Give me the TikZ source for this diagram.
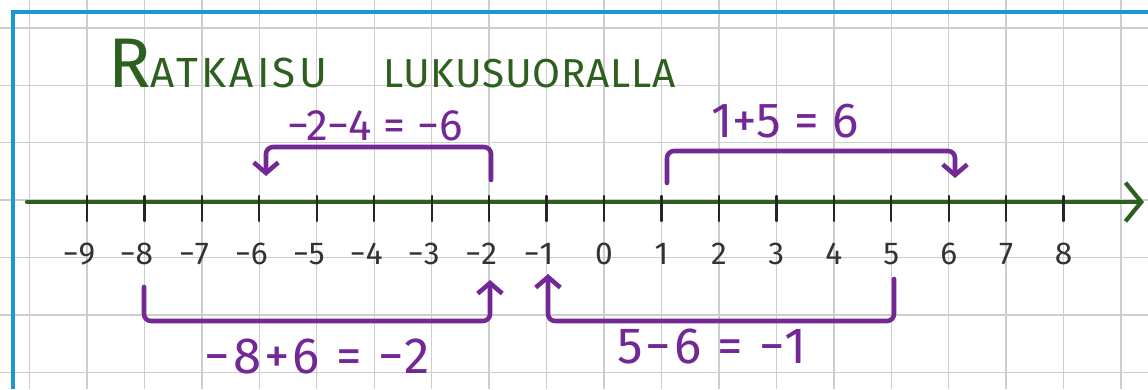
\documentclass[tikz,border=0pt]{standalone}
\usepackage{fontspec}
\setmainfont{Fira Sans}
\usetikzlibrary{arrows.meta}
\definecolor{gridgray}{RGB}{205,205,205}
\definecolor{boardblue}{RGB}{30,150,212}
\definecolor{linegreen}{RGB}{45,95,30}
\definecolor{penpurple}{RGB}{115,40,150}
\begin{document}
\begin{tikzpicture}[x=0.02cm,y=-0.02cm,
  gridline/.style={draw=gridgray,line width=0.8pt},
  border/.style={draw=boardblue,line width=2.2pt},
  axis/.style={draw=linegreen,line width=2.4pt,line cap=round,
    -{Straight Barb[length=9pt,width=22pt,line width=2.4pt]}},
  tickmark/.style={draw=black!85,line width=1.3pt,line cap=round},
  ticklabel/.style={font=\fontsize{18}{20}\selectfont,text=black!80,inner sep=0pt},
  jump/.style={draw=penpurple,line width=2.6pt,rounded corners=4pt,line cap=round,line join=round},
  jumparrow/.style={jump,-{Straight Barb[length=6pt,width=14pt]}},
  sumlabel/.style={text=penpurple,inner sep=0pt},
  titletext/.style={text=linegreen,inner sep=0pt,anchor=base west}
]
\useasboundingbox (0,0) rectangle (1148,389);
\fill[white] (0,0) rectangle (1148,389);
% grid
\foreach \i in {0,...,19} \draw[gridline] ({29.5+57.45*\i},0) -- ({29.5+57.45*\i},389);
\foreach \j in {0,...,6} \draw[gridline] (0,{27.8+57.4*\j}) -- (1148,{27.8+57.4*\j});
% border
\draw[border] (13,389) -- (13,12) -- (1148,12);
% title
\node[titletext] (title1) at (108,87) {\addfontfeatures{LetterSpace=8}\fontsize{40}{40}\selectfont R\fontsize{24}{24}\selectfont ATKAISU};
\node[titletext] (title2) at (383,87) {\addfontfeatures{LetterSpace=2}\fontsize{23}{24}\selectfont LUKUSUORALLA};
% axis
\coordinate (axstart) at (27,202);
\coordinate (axend) at (1144,202);
\draw[axis] (axstart) -- (axend);
\foreach \k in {-9,...,8} {
  \coordinate (t\k) at ({604+57.45*\k},202);
  \draw[tickmark] (t\k) ++(0,-6) -- ++(0,25);
}
\foreach \k in {-9,...,-1}
  \node[ticklabel] (l\k) at ({604+57.45*\k},254) {\llap{−}\number-\k};
\foreach \k in {0,...,8}
  \node[ticklabel] (l\k) at ({604+57.45*\k},254) {\k};
% jumps
\coordinate (a1) at (491,180); \coordinate (a2) at (266,176);
\draw[jumparrow] (a1) -- ++(0,-33) -| (a2);
\coordinate (b1) at (667,183); \coordinate (b2) at (955,178);
\draw[jumparrow] (b1) -- ++(0,-32) -| (b2);
\coordinate (c1) at (144,287); \coordinate (c2) at (490,280);
\draw[jumparrow] (c1) -- ++(0,34) -| (c2);
\coordinate (d1) at (894,279); \coordinate (d2) at (548,274);
\draw[jumparrow] (d1) -- ++(0,42) -| (d2);
% sums
\node[sumlabel,font=\fontsize{25}{26}\selectfont] (la) at (375,126) {−2−4 = −6};
\node[sumlabel,font=\fontsize{28}{30}\selectfont] (lb) at (785,121) {1+5 = 6};
\node[sumlabel,font=\fontsize{29}{30}\selectfont\addfontfeatures{LetterSpace=6}] (lc) at (317,356) {−8+6 = −2};
\node[sumlabel,font=\fontsize{29}{30}\selectfont\addfontfeatures{LetterSpace=6}] (ld) at (712,346) {5−6 = −1};
\end{tikzpicture}
\end{document}
